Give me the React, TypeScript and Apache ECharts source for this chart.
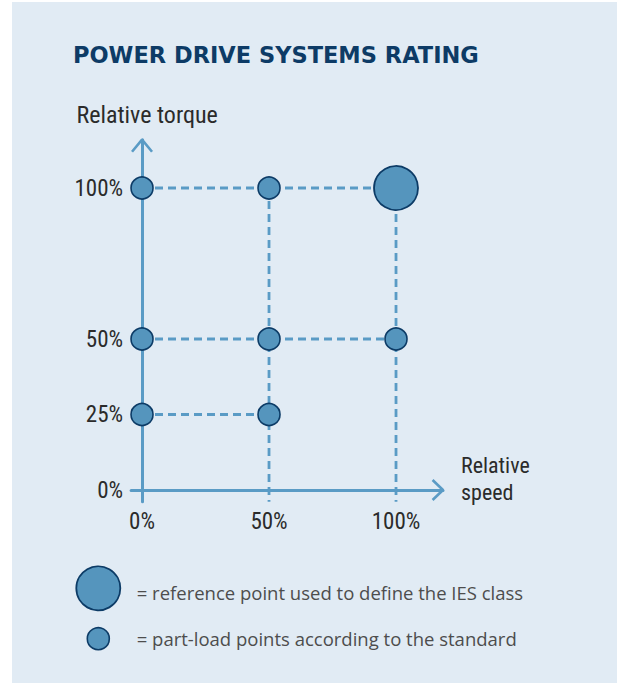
import React, { useEffect, useRef } from "react";
import * as echarts from "echarts";

// ---------- data ----------
const speedTicks = [0, 50, 100];
const torqueTicks = [0, 25, 50, 100];
const partLoadPoints: [number, number][] = [
  [0, 100],
  [50, 100],
  [0, 50],
  [50, 50],
  [100, 50],
  [0, 25],
  [50, 25],
];
const referencePoints: [number, number][] = [[100, 100]];
const titleText = "POWER DRIVE SYSTEMS RATING";
const yAxisName = "Relative torque";
const xAxisNameLines = ["Relative", "speed"];
const legendLabels = [
  "= reference point used to define the IES class",
  "= part-load points according to the standard",
];

// ---------- styles ----------
const X_EXT = [-4.3, 118.5];
const Y_EXT = [-3.9, 116];
const AXIS_COLOR = "#5A9BC5";
const POINT_FILL = "#5595BD";
const POINT_BORDER = "#0C3B66";
const NARROW = "'Liberation Sans Narrow', 'Roboto Condensed', 'DejaVu Sans Condensed', sans-serif";
const TEXT_DARK = "#2b2b2b";

export default function App() {
  const ref = useRef<HTMLDivElement>(null);

  useEffect(() => {
    if (!ref.current) return;
    const chart = echarts.init(ref.current, undefined, { renderer: "svg" });

    const allPoints = [...partLoadPoints, ...referencePoints];
    const guideLines: [number, number][][] = [];
    torqueTicks
      .filter((t) => t > 0)
      .forEach((t) => {
        const speeds = allPoints.filter((p) => p[1] === t).map((p) => p[0]);
        if (speeds.length) guideLines.push([[0, t], [Math.max(...speeds), t]]);
      });
    speedTicks
      .filter((s) => s > 0)
      .forEach((s) => {
        const torques = allPoints.filter((p) => p[0] === s).map((p) => p[1]);
        if (torques.length) guideLines.push([[s, Math.max(...torques)], [s, Y_EXT[0]]]);
      });

    const yArrow: [number, number][] = [
      [-3.94, Y_EXT[1] - 4],
      [0, Y_EXT[1]],
      [3.94, Y_EXT[1] - 4],
    ];
    const xArrow: [number, number][] = [
      [X_EXT[1] - 4.1, 3.3],
      [X_EXT[1], 0],
      [X_EXT[1] - 4.1, -3.3],
    ];

    const series: any[] = [];
    guideLines.forEach((d) =>
      series.push({
        type: "line",
        data: d,
        symbol: "none",
        silent: true,
        z: 2,
        lineStyle: { color: AXIS_COLOR, width: 2.8, type: [8, 5] },
      })
    );
    [yArrow, xArrow].forEach((d) =>
      series.push({
        type: "line",
        data: d,
        symbol: "none",
        silent: true,
        z: 3,
        lineStyle: { color: AXIS_COLOR, width: 2.6 },
      })
    );
    series.push({
      type: "scatter",
      data: partLoadPoints,
      symbolSize: 22,
      z: 5,
      itemStyle: { color: POINT_FILL, borderColor: POINT_BORDER, borderWidth: 1.6, opacity: 1 },
    });
    series.push({
      type: "scatter",
      data: referencePoints,
      symbolSize: 44,
      z: 5,
      itemStyle: { color: POINT_FILL, borderColor: POINT_BORDER, borderWidth: 1.8, opacity: 1 },
    });

    const axisCommon = {
      type: "value",
      axisTick: { show: false },
      splitLine: { show: false },
      axisLine: { show: true, onZero: true, lineStyle: { color: AXIS_COLOR, width: 3 } },
    };

    chart.setOption({
      animation: false,
      grid: {
        left: 131.1,
        right: 174,
        top: 139.7,
        bottom: 181.2,
        containLabel: false,
        outerBoundsMode: "none",
      },
      xAxis: {
        ...axisCommon,
        min: X_EXT[0],
        max: X_EXT[1],
        axisLabel: {
          customValues: speedTicks,
          formatter: (v: number) => v + "%",
          fontSize: 23,
          fontFamily: NARROW,
          color: TEXT_DARK,
          margin: 8,
        },
      },
      yAxis: {
        ...axisCommon,
        min: Y_EXT[0],
        max: Y_EXT[1],
        axisLabel: {
          customValues: torqueTicks,
          formatter: (v: number) => v + "%",
          fontSize: 23,
          fontFamily: NARROW,
          color: TEXT_DARK,
          margin: 8,
        },
      },
      series,
      graphic: [
        {
          type: "rect",
          z: -10,
          silent: true,
          shape: { x: 12, y: 2, width: 617, height: 700 },
          style: { fill: "#E1EBF4" },
        },
        {
          type: "text",
          x: 73,
          y: 55.3,
          style: {
            text: titleText,
            font: "bold 22.5px 'DejaVu Sans', sans-serif",
            fill: "#0D3B66",
            verticalAlign: "middle",
          },
        },
        {
          type: "text",
          x: 76.5,
          y: 115,
          style: {
            text: yAxisName,
            font: `24px ${NARROW}`,
            fill: TEXT_DARK,
            verticalAlign: "middle",
          },
        },
        {
          type: "text",
          x: 461,
          y: 479,
          style: {
            text: xAxisNameLines.join("\n"),
            font: `22px ${NARROW}`,
            lineHeight: 26.5,
            fill: TEXT_DARK,
            verticalAlign: "middle",
          },
        },
        {
          type: "circle",
          shape: { cx: 98.3, cy: 588.3, r: 22 },
          style: { fill: POINT_FILL, stroke: POINT_BORDER, lineWidth: 1.8 },
        },
        {
          type: "circle",
          shape: { cx: 98.3, cy: 638.7, r: 11 },
          style: { fill: POINT_FILL, stroke: POINT_BORDER, lineWidth: 1.6 },
        },
        ...legendLabels.map((t, i) => ({
          type: "text",
          x: 136.7,
          y: [592.5, 638][i],
          style: {
            text: t,
            font: "18.5px 'Open Sans', sans-serif",
            fill: "#4d4d4d",
            verticalAlign: "middle",
          },
        })),
      ],
    });

    return () => chart.dispose();
  }, []);

  return (
    <div
      ref={ref}
      style={{ position: "absolute", left: 0, top: 0, width: 617, height: 683 }}
    />
  );
}
